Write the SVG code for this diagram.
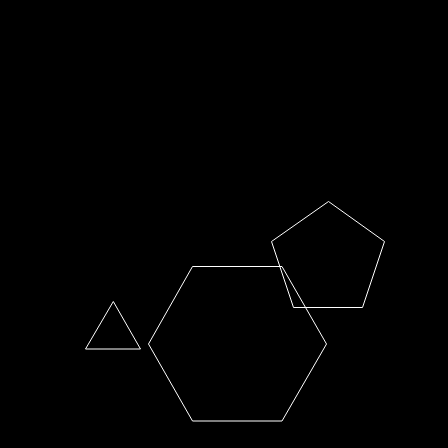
<svg xmlns="http://www.w3.org/2000/svg" width="448" height="448" viewBox="0 0 448 448">
<style>.s{fill:none;stroke:#fff;stroke-width:1}</style>
<rect width="448" height="448" fill="#000"/>
<g id="triangle"><polygon class="s" points="113.3,301.5 85.5,349 140.5,349"/></g>
<g id="hexagon"><polygon class="s" points="192.5,266.5 282,266.5 326.5,344 282,421 192.5,421 148.5,344"/></g>
<g id="pentagon"><polygon class="s" points="328.5,201.5 384.5,241.5 362.5,307.5 293.5,307.5 271.5,241.5"/></g>
</svg>
